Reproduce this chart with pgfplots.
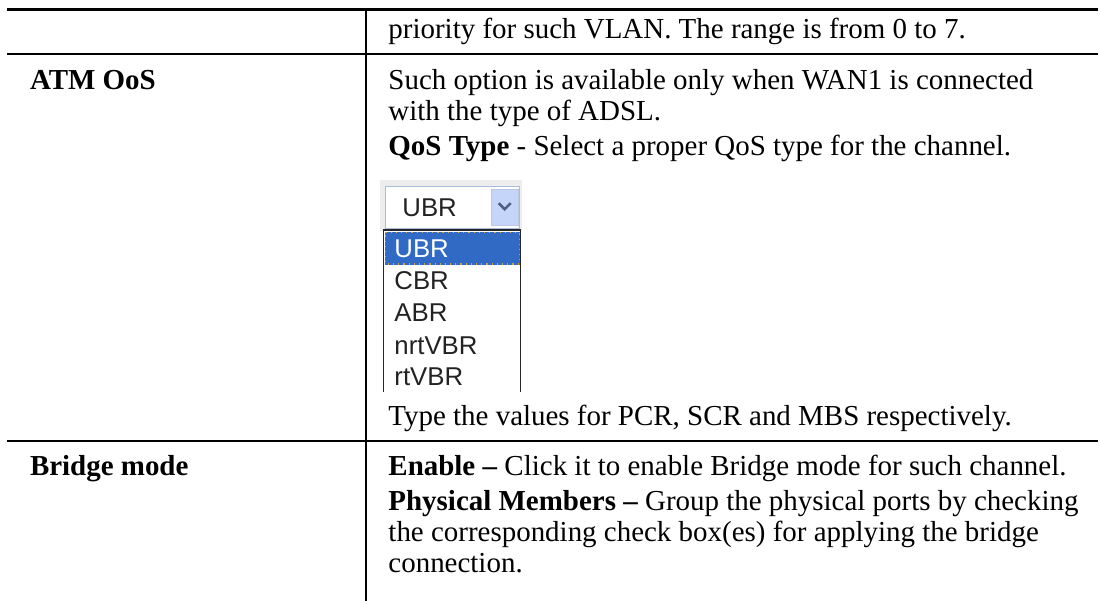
\documentclass[border=0pt]{standalone}
\usepackage{pgfplots}
\pgfplotsset{compat=1.18}
\usepackage{fontspec}
\setmainfont{Liberation Serif}
\newfontfamily\uifont{Liberation Sans}
\definecolor{selblue}{HTML}{316AC5}
\definecolor{btnblue}{HTML}{C4D5F9}
\definecolor{chev}{HTML}{4D6185}
\definecolor{frame}{HTML}{EDEDED}
\definecolor{fieldb}{HTML}{A9BCDA}
\definecolor{uitext}{HTML}{222222}
\definecolor{focus}{HTML}{C9A24A}
\newcommand\T{\fontsize{14.5}{17}\selectfont}
\newcommand\U{\uifont\fontsize{12.9}{14}\selectfont}
\begin{document}
\begin{tikzpicture}
\begin{axis}[
  width=550pt, height=301pt, scale only axis,
  xmin=0, xmax=1100, ymin=0, ymax=602, y dir=reverse,
  hide axis, clip=false,
  every node/.append style={inner sep=0pt, outer sep=0pt},
]
% background covering the page
\addplot[draw=none, fill=white, forget plot] coordinates {(0,0) (1100,0) (1100,602) (0,602)} -- cycle;
% table rules
\addplot[black, line width=1.75pt] coordinates {(7,9.5) (1100,9.5)};
\addplot[black, line width=0.9pt] coordinates {(7,54) (1100,54)};
\addplot[black, line width=0.9pt] coordinates {(7,442) (1100,442)};
\addplot[black, line width=0.9pt] coordinates {(366.5,11) (366.5,602)};
% dropdown widget
\addplot[draw=none, fill=frame] coordinates {(381,180) (523,180) (523,231) (381,231)} -- cycle;
\addplot[draw=fieldb, fill=white, line width=0.5pt] coordinates {(386,187) (520,187) (520,229) (386,229)} -- cycle;
\addplot[draw=fieldb!80, fill=btnblue, line width=0.4pt] coordinates {(492,190) (519,190) (519,226) (492,226)} -- cycle;
\addplot[chev, line width=1.3pt] coordinates {(499.5,203.5) (505.5,209.5) (511.5,203.5)};
% list box
\addplot[draw=none, fill=white] coordinates {(384,230) (522,230) (522,393) (384,393)} -- cycle;
\addplot[draw=black!85, line width=0.7pt] coordinates {(384,393) (384,230.5) (521.5,230.5) (521.5,393)};
\addplot[draw=none, fill=selblue] coordinates {(385.5,232) (520.5,232) (520.5,265) (385.5,265)} -- cycle;
\addplot[draw=focus, dotted, line width=0.6pt] coordinates {(386,232.5) (520,232.5) (520,264.5) (386,264.5)} -- cycle;
% list texts
\node[anchor=base west, text=white] at (axis cs:388,258) {\U UBR};
\node[anchor=base west, text=uitext] at (axis cs:388,290) {\U CBR};
\node[anchor=base west, text=uitext] at (axis cs:388,322) {\U ABR};
\node[anchor=base west, text=uitext] at (axis cs:388,355) {\U nrtVBR};
\node[anchor=base west, text=uitext] at (axis cs:388,386) {\U rtVBR};
\node[anchor=base west, text=uitext] at (axis cs:396,217) {\U UBR};
% left column
\node[anchor=base west] at (axis cs:23,90) {\T\bfseries ATM OoS};
\node[anchor=base west] at (axis cs:23,476) {\T\bfseries Bridge mode};
% right column
\node[anchor=base west] at (axis cs:382,39) {\T priority for such VLAN. The range is from 0 to 7.};
\node[anchor=base west] at (axis cs:382,90) {\T Such option is available only when WAN1 is connected};
\node[anchor=base west] at (axis cs:382,121) {\T with the type of ADSL.};
\node[anchor=base west] at (axis cs:382,156) {\T\textbf{QoS Type} - Select a proper QoS type for the channel.};
\node[anchor=base west] at (axis cs:382,426) {\T Type the values for PCR, SCR and MBS respectively.};
\node[anchor=base west] at (axis cs:382,476) {\T\textbf{Enable –} Click it to enable Bridge mode for such channel.};
\node[anchor=base west] at (axis cs:382,511) {\T\textbf{Physical Members –} Group the physical ports by checking};
\node[anchor=base west] at (axis cs:382,542) {\T the corresponding check box(es) for applying the bridge};
\node[anchor=base west] at (axis cs:382,573) {\T connection.};
\end{axis}
\end{tikzpicture}
\end{document}
